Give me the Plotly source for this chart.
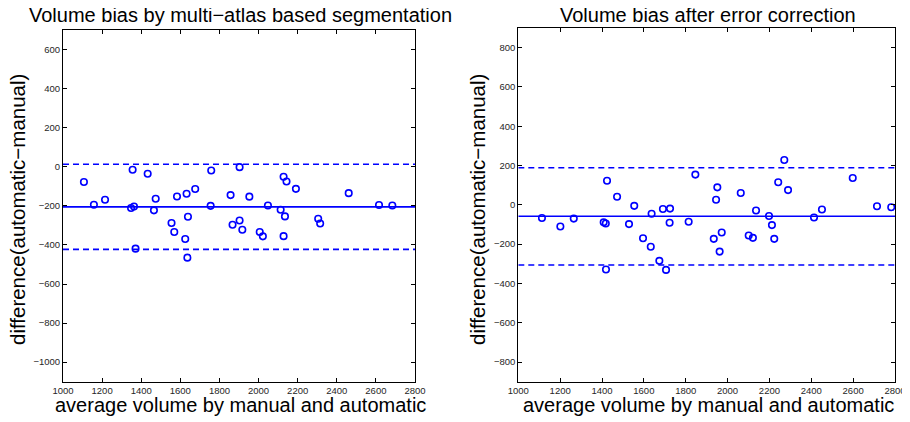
import plotly.graph_objects as go

# ---- data ----
left_avg = [1107, 1158, 1215, 1356, 1348, 1363, 1371, 1433, 1474, 1465, 1555, 1569, 1583, 1625,
            1632, 1639, 1636, 1676, 1758, 1755, 1857, 1903, 1867, 1903, 1917, 1953, 2006, 2022,
            2048, 2113, 2128, 2143, 2135, 2128, 2191, 2305, 2315, 2461, 2616, 2684]
left_diff = [-78, -194, -169, -15, -211, -203, -419, -36, -164, -223, -288, -334, -152, -370,
             -138, -256, -465, -114, -19, -200, -145, -2, -297, -275, -322, -153, -334, -356,
             -198, -220, -51, -75, -254, -355, -113, -266, -290, -135, -196, -198]
left_mean, left_upper, left_lower = -205, 13, -423

right_avg = [1113, 1201, 1265, 1408, 1418, 1424, 1419, 1472, 1529, 1554, 1596, 1633, 1637, 1674,
             1691, 1706, 1725, 1723, 1814, 1846, 1951, 1945, 1934, 1972, 1962, 2063, 2136, 2101,
             2121, 2198, 2212, 2223, 2242, 2271, 2289, 2413, 2451, 2598, 2714, 2782]
right_diff = [-67, -110, -70, -89, -95, 123, -329, 41, -98, -5, -170, -213, -45, -285,
              -21, -331, -19, -91, -86, 154, 89, 26, -173, -141, -238, 60, -29, -156,
              -168, -57, -103, -173, 115, 228, 75, -64, -24, 137, -7, -12]
right_mean, right_upper, right_lower = -58, 189, -306

x_range = [1000, 2800]
left_y_range = [-1100, 700]
right_y_range = [-900, 900]
x_ticks = list(range(1000, 2801, 200))
left_y_ticks = list(range(-1000, 601, 200))
right_y_ticks = list(range(-800, 801, 200))

titles = ["Volume bias by multi\u2212atlas based segmentation", "Volume bias after error correction"]
x_title = "average volume by manual and automatic"
y_title = "difference(automatic\u2212manual)"

BLUE = "#0000FF"
# page body margin of 8px is accounted for: figure is 902x414 placed at (8, 8)
W, H = 902, 414

fig = go.Figure()

def add_panel(xa, ya, avg, diff, mean, upper, lower):
    fig.add_trace(go.Scatter(x=x_range, y=[mean, mean], mode="lines", xaxis=xa, yaxis=ya,
                             line=dict(color=BLUE, width=1.6), showlegend=False, hoverinfo="skip"))
    for v in (upper, lower):
        fig.add_trace(go.Scatter(x=x_range, y=[v, v], mode="lines", xaxis=xa, yaxis=ya,
                                 line=dict(color=BLUE, width=1.6, dash="6px,4px"),
                                 showlegend=False, hoverinfo="skip"))
    fig.add_trace(go.Scatter(x=avg, y=diff, mode="markers", xaxis=xa, yaxis=ya,
                             marker=dict(symbol="circle-open", size=6.5, color=BLUE,
                                         line=dict(width=1.6, color=BLUE)),
                             showlegend=False))

add_panel("x", "y", left_avg, left_diff, left_mean, left_upper, left_lower)
add_panel("x2", "y2", right_avg, right_diff, right_mean, right_upper, right_lower)

tickfont = dict(family="Liberation Sans, Arial, sans-serif", size=9.5, color="#262626")
common = dict(showgrid=False, zeroline=False, showline=True, linecolor="black", linewidth=1,
              mirror="ticks", ticks="inside", ticklen=4, tickcolor="black", tickwidth=1,
              tickfont=tickfont, automargin=False)

l0, l1 = 55 / W, 407 / W
r0, r1 = 510.3 / W, 887 / W
yb = 1 - 373.7 / H
fig.update_layout(
    width=W, height=H,
    margin=dict(l=0, r=0, t=0, b=0),
    paper_bgcolor="white", plot_bgcolor="white",
    xaxis=dict(domain=[l0, l1], range=x_range, tickvals=x_ticks, anchor="y", **common),
    yaxis=dict(domain=[yb, 1 - 22 / H], range=left_y_range, tickvals=left_y_ticks, anchor="x", **common),
    xaxis2=dict(domain=[r0, r1], range=x_range, tickvals=x_ticks, anchor="y2", **common),
    yaxis2=dict(domain=[yb, 1 - 20 / H], range=right_y_range, tickvals=right_y_ticks, anchor="x2", **common),
)

font_main = dict(family="Liberation Sans, Arial, sans-serif", color="black")
ann = []
for cx, t in ((232, titles[0]), (700, titles[1])):
    ann.append(dict(x=cx / W, y=1 - 7 / H, xref="paper", yref="paper", text=t, showarrow=False,
                    xanchor="center", yanchor="middle", font=dict(size=20, **font_main)))
for cx in (232, 700):
    ann.append(dict(x=cx / W, y=1 - 397 / H, xref="paper", yref="paper", text=x_title, showarrow=False,
                    xanchor="center", yanchor="middle", font=dict(size=20, **font_main)))
for cx in (10, 470):
    ann.append(dict(x=cx / W, y=1 - 202 / H, xref="paper", yref="paper", text=y_title, showarrow=False,
                    textangle=-90, xanchor="center", yanchor="middle", font=dict(size=20.5, **font_main)))
fig.update_layout(annotations=ann)

fig.write_html("out.html")
